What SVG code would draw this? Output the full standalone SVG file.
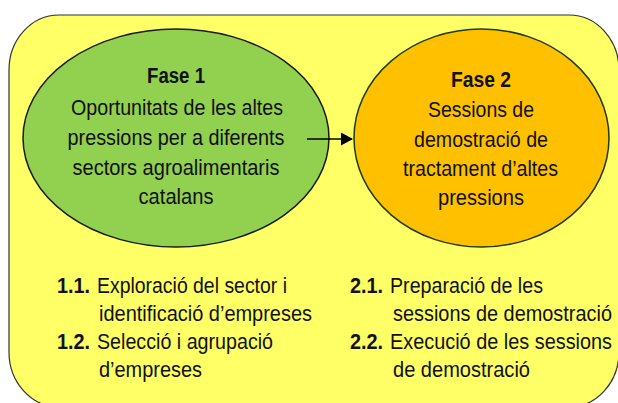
<svg xmlns="http://www.w3.org/2000/svg" width="618" height="403" viewBox="0 0 618 403">
<defs>
<style>
text{font-family:"Liberation Sans",Arial,sans-serif;font-size:22px;fill:#111;}
.c{text-anchor:middle;}
.b{font-weight:bold;}
</style>
<marker id="ah" markerWidth="12" markerHeight="13" refX="11" refY="6.5" orient="auto" markerUnits="userSpaceOnUse">
<path d="M0,0 L12,6.5 L0,13 Z" fill="#000"/>
</marker>
</defs>
<rect width="618" height="403" fill="#fff"/>
<g id="panel">
<rect x="9" y="15" width="610" height="392" rx="50" ry="55" fill="#FFFF66" stroke="#333" stroke-width="1.2"/>
</g>
<g id="fase1">
<ellipse cx="176" cy="138" rx="153" ry="109" fill="#92D050" stroke="#1a1a1a" stroke-width="1.5"/>
<text class="c b" transform="translate(176,83) scale(0.9,1)" textLength="64.4" lengthAdjust="spacingAndGlyphs">Fase 1</text>
<text class="c" transform="translate(177,115) scale(0.9,1)" textLength="235.6" lengthAdjust="spacingAndGlyphs">Oportunitats de les altes</text>
<text class="c" transform="translate(176,145) scale(0.9,1)" textLength="241.1" lengthAdjust="spacingAndGlyphs">pressions per a diferents</text>
<text class="c" transform="translate(176,175) scale(0.9,1)" textLength="230" lengthAdjust="spacingAndGlyphs">sectors agroalimentaris</text>
<text class="c" transform="translate(176,204) scale(0.9,1)" textLength="83.3" lengthAdjust="spacingAndGlyphs">catalans</text>
</g>
<g id="fase2">
<ellipse cx="481.5" cy="138" rx="127.5" ry="109" fill="#FFC000" stroke="#1f3a10" stroke-width="1.5"/>
<text class="c b" transform="translate(481,87) scale(0.9,1)" textLength="66.7" lengthAdjust="spacingAndGlyphs">Fase 2</text>
<text class="c" transform="translate(481,117) scale(0.9,1)" textLength="117.8" lengthAdjust="spacingAndGlyphs">Sessions de</text>
<text class="c" transform="translate(481,147) scale(0.9,1)" textLength="148.9" lengthAdjust="spacingAndGlyphs">demostració de</text>
<text class="c" transform="translate(480.5,176) scale(0.9,1)" textLength="172.2" lengthAdjust="spacingAndGlyphs">tractament d’altes</text>
<text class="c" transform="translate(481,205) scale(0.9,1)" textLength="95.6" lengthAdjust="spacingAndGlyphs">pressions</text>
</g>
<g id="connectors">
<line x1="307" y1="139" x2="352" y2="139" stroke="#000" stroke-width="1.5" marker-end="url(#ah)"/>
</g>
<g id="tasks1">
<text class="b" transform="translate(57,293) scale(0.9,1)" textLength="36.7" lengthAdjust="spacingAndGlyphs">1.1.</text>
<text transform="translate(97,293) scale(0.9,1)" textLength="211.1" lengthAdjust="spacingAndGlyphs">Exploració del sector i</text>
<text transform="translate(99,321) scale(0.9,1)" textLength="236.7" lengthAdjust="spacingAndGlyphs">identificació d’empreses</text>
<text class="b" transform="translate(57,349) scale(0.9,1)" textLength="36.7" lengthAdjust="spacingAndGlyphs">1.2.</text>
<text transform="translate(97,349) scale(0.9,1)" textLength="195.6" lengthAdjust="spacingAndGlyphs">Selecció i agrupació</text>
<text transform="translate(99,377) scale(0.9,1)" textLength="114.4" lengthAdjust="spacingAndGlyphs">d’empreses</text>
</g>
<g id="tasks2">
<text class="b" transform="translate(350,293) scale(0.9,1)" textLength="36.7" lengthAdjust="spacingAndGlyphs">2.1.</text>
<text transform="translate(390,293) scale(0.9,1)" textLength="170" lengthAdjust="spacingAndGlyphs">Preparació de les</text>
<text transform="translate(393,321) scale(0.9,1)" textLength="243.3" lengthAdjust="spacingAndGlyphs">sessions de demostració</text>
<text class="b" transform="translate(350,349) scale(0.9,1)" textLength="36.7" lengthAdjust="spacingAndGlyphs">2.2.</text>
<text transform="translate(390,349) scale(0.9,1)" textLength="246.7" lengthAdjust="spacingAndGlyphs">Execució de les sessions</text>
<text transform="translate(393,377) scale(0.9,1)" textLength="152.2" lengthAdjust="spacingAndGlyphs">de demostració</text>
</g>
</svg>
